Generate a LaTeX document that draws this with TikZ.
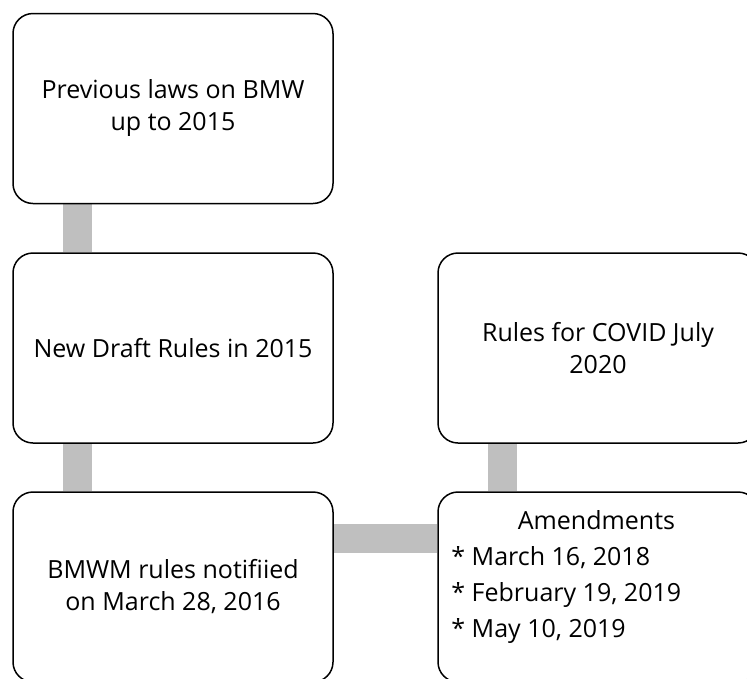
\documentclass[tikz,border=0pt]{standalone}
\usepackage{fontspec}
\setmainfont{Open Sans}
\usetikzlibrary{backgrounds}
\definecolor{conngray}{HTML}{BFBFBF}
\tikzset{
  box/.style={draw=black, line width=1.5pt, rounded corners=20pt, fill=white,
    minimum width=320pt, minimum height=190pt, inner sep=0pt,
    align=center, font=\fontsize{25}{32}\selectfont},
  conn/.style={draw=conngray, line width=29pt},
  txt/.style={inner sep=0pt, font=\fontsize{25}{32}\selectfont}
}
\begin{document}
\begin{tikzpicture}[x=1pt, y=-1pt]
\useasboundingbox (0,0) rectangle (747,678);
\clip (0,0) rectangle (747,678);
\node[box] (b1) at (173,108.5) {Previous laws on BMW\\up to 2015};
\node[box] (b2) at (173,348) {New Draft Rules in 2015};
\node[box] (b3) at (173,587) {BMWM rules notifiied\\on March 28, 2016};
\node[box] (b4) at (598,348) {Rules for COVID July\\2020};
\node[box] (b5) at (598,587) {};
\node[txt, anchor=north west, align=left] (amd) at ([xshift=14pt, yshift=-19pt]b5.north west)
  {\makebox[290pt][c]{Amendments}\\[4pt]* March 16, 2018\\[4pt]* February 19, 2019\\[4pt]* May 10, 2019};
\begin{scope}[on background layer]
\draw[conn] ([xshift=65.5pt]b1.south west) -- ([xshift=65.5pt]b2.north west);
\draw[conn] ([xshift=65.5pt]b2.south west) -- ([xshift=65.5pt]b3.north west);
\draw[conn] ([yshift=-47pt]b3.north east) -- ([yshift=-47pt]b5.north west);
\draw[conn] ([xshift=65.5pt]b4.south west) -- ([xshift=65.5pt]b5.north west);
\end{scope}
\end{tikzpicture}
\end{document}
